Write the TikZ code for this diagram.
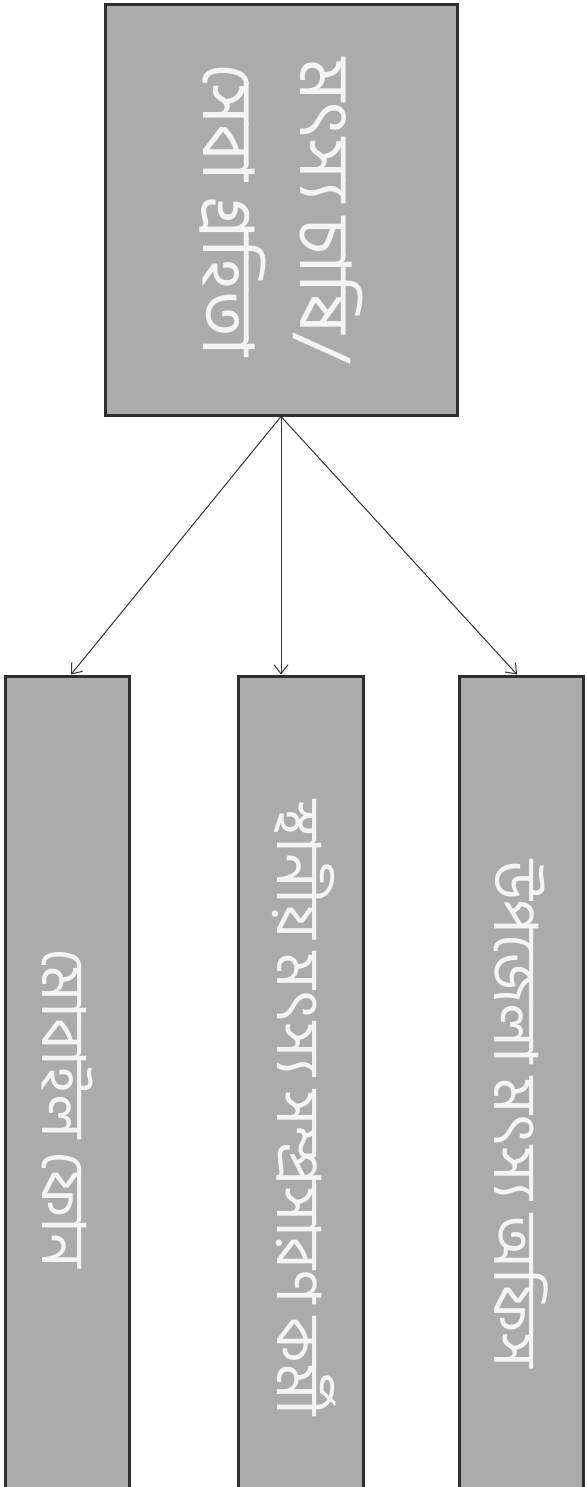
\documentclass[tikz,border=0pt]{standalone}
\usepackage{fontspec}
\newfontfamily\bn[Script=Bengali]{Hind Siliguri}
\usetikzlibrary{arrows.meta}
\definecolor{boxfill}{HTML}{ABABAB}
\definecolor{boxline}{HTML}{2E2E2E}
\definecolor{txt}{HTML}{F4F4F4}
\tikzset{
  box/.style={draw=boxline, line width=3pt, fill=boxfill, text=txt, rotate=-90, inner sep=0pt, align=center},
  lbl/.style={rotate=-90, text=txt, inner sep=0pt, font=\bn\fontsize{61}{62}\selectfont},
  link/.style={draw=black!80, line width=1pt, -{Straight Barb[length=9pt,width=14pt,line width=1pt]}}
}
\begin{document}
\begin{tikzpicture}[x=1pt,y=1pt]
\useasboundingbox (0,0) rectangle (586,-1487);
\clip (0,0) rectangle (586,-1487);
\fill[white] (0,0) rectangle (586,-1487);
\node[box, minimum width=410pt, minimum height=352pt, font=\bn\fontsize{71}{97}\selectfont] (top) at (281,-210) {মৎস্য চাষি/\\সেবা গ্রহিতা};
\node[box, minimum width=1000pt, minimum height=124pt] (b1) at (67,-1176) {};
\node[box, minimum width=1000pt, minimum height=125pt] (b2) at (301,-1176) {};
\node[box, minimum width=1000pt, minimum height=124pt] (b3) at (521,-1176) {};
\node[lbl] (t1) at (67,-1108) {মোবাইল ফোন};
\node[lbl] (t2) at (304,-1108) {স্থানীয় মৎস্য সম্প্রসারণ কর্মী};
\node[lbl] (t3) at (521,-1114) {উপজেলা মৎস্য অফিস};
\draw[link] (top.east) -- ([xshift=4pt]b1.west);
\draw[link] (top.east) -- ([xshift=-20pt]b2.west);
\draw[link] (top.east) -- ([xshift=-4pt]b3.west);
\end{tikzpicture}
\end{document}
